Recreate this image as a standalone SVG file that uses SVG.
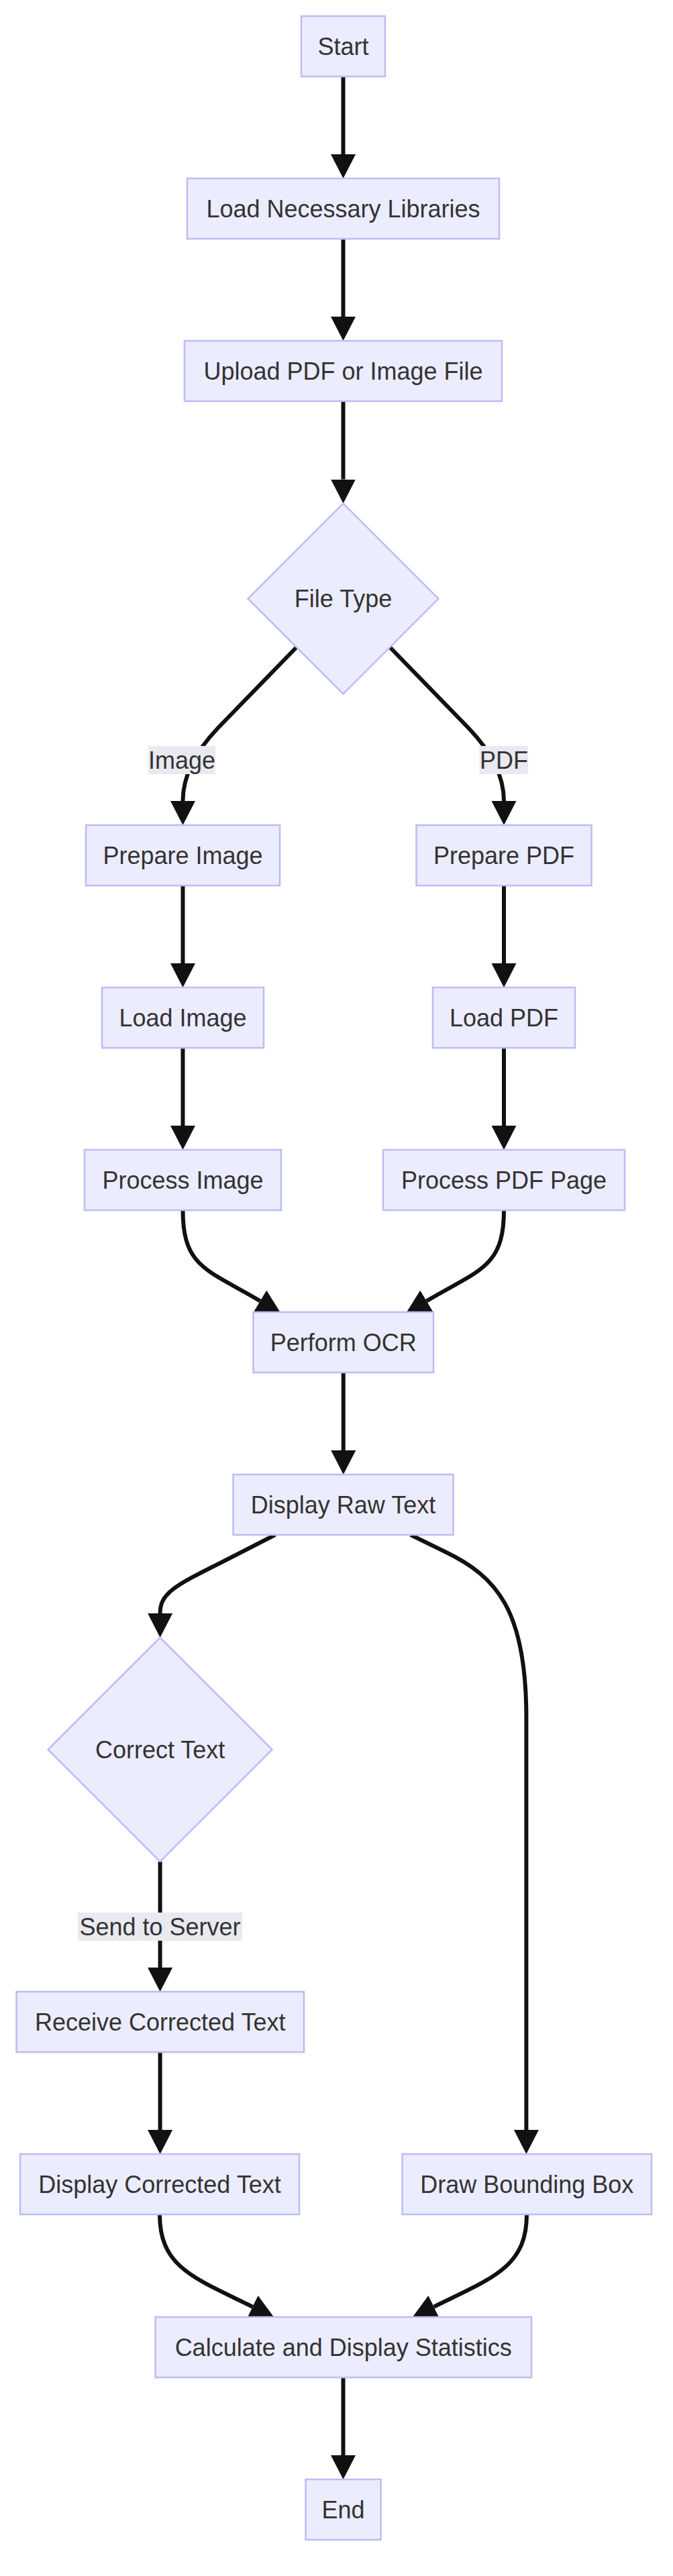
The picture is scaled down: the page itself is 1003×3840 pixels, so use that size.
<svg xmlns="http://www.w3.org/2000/svg" width="1003" height="3840" viewBox="0 0 1003 3840">
<style>
.node rect, .node polygon { fill: #ECECFF; stroke: #BCBCF5; stroke-width: 2.5; }
.lbl { font-family: "Liberation Sans", Arial, sans-serif; font-size: 36px; fill: #333333; text-anchor: middle; }
.edge { fill: none; stroke: #111111; stroke-width: 6; }
.elbg { fill: #E9E9F0; }
</style>
<defs>
<marker id="arrow" viewBox="0 0 36 37" markerWidth="36" markerHeight="37" refX="0" refY="18.5" orient="auto" markerUnits="userSpaceOnUse">
<path d="M0,0 L36,18.5 L0,37 z" fill="#111111"/>
</marker>
</defs>
<rect x="0" y="0" width="1003" height="3840" fill="#FFFFFF"/>
<g id="connectors">
<path class="edge" marker-end="url(#arrow)" d="M511.5,114 L511.5,230"/>
<path class="edge" marker-end="url(#arrow)" d="M511.5,356 L511.5,472"/>
<path class="edge" marker-end="url(#arrow)" d="M511.5,598 L511.5,714.5"/>
<path class="edge" marker-end="url(#arrow)" d="M441.7,965 L325,1085 Q272.5,1140 272.5,1194"/>
<path class="edge" marker-end="url(#arrow)" d="M581.3,965 L698,1085 Q751,1140 751,1194"/>
<path class="edge" marker-end="url(#arrow)" d="M272.5,1320 L272.5,1436"/>
<path class="edge" marker-end="url(#arrow)" d="M272.5,1562 L272.5,1678"/>
<path class="edge" marker-end="url(#arrow)" d="M751,1320 L751,1436"/>
<path class="edge" marker-end="url(#arrow)" d="M751,1562 L751,1678"/>
<path class="edge" marker-end="url(#arrow)" d="M272.5,1804 C272.5,1890 310,1893 387.7,1939.4"/>
<path class="edge" marker-end="url(#arrow)" d="M751,1804 C751,1890 713.5,1893 635.8,1939.4"/>
<path class="edge" marker-end="url(#arrow)" d="M511.75,2046 L511.75,2162"/>
<path class="edge" marker-end="url(#arrow)" d="M410,2288 L330,2329 C260,2364 238.6,2375 238.6,2405"/>
<path class="edge" marker-end="url(#arrow)" d="M612,2288 L663,2313 C740,2350 784.4,2400 784.4,2560 L784.4,3175"/>
<path class="edge" marker-end="url(#arrow)" d="M238.6,2775 L238.6,2933"/>
<path class="edge" marker-end="url(#arrow)" d="M238.6,3059 L238.6,3175"/>
<path class="edge" marker-end="url(#arrow)" d="M238,3301 C238,3380 290,3396 376.4,3438.7"/>
<path class="edge" marker-end="url(#arrow)" d="M785,3301 C785,3380 733,3396 646.6,3438.7"/>
<path class="edge" marker-end="url(#arrow)" d="M511.5,3544 L511.5,3660"/>
<g id="edge-labels">
<rect class="elbg" x="221" y="1112" width="100" height="42"/>
<text class="lbl" x="271" y="1145.5">Image</text>
<rect class="elbg" x="714.5" y="1112" width="72.5" height="42"/>
<text class="lbl" x="751" y="1145.5">PDF</text>
<rect class="elbg" x="116" y="2851" width="245" height="42"/>
<text class="lbl" x="238.5" y="2884.5">Send to Server</text>
</g>
</g>
<g id="node-start" class="node"><rect x="449" y="24" width="125" height="90"/><text class="lbl" x="511.5" y="81.5">Start</text></g>
<g id="node-libs" class="node"><rect x="279" y="266" width="465" height="90"/><text class="lbl" x="511.5" y="323.5">Load Necessary Libraries</text></g>
<g id="node-upload" class="node"><rect x="275" y="508" width="473" height="90"/><text class="lbl" x="511.5" y="565.5">Upload PDF or Image File</text></g>
<g id="node-filetype" class="node"><polygon points="511.5,750.5 653.5,892.5 511.5,1034.5 369.5,892.5"/><text class="lbl" x="511.5" y="905">File Type</text></g>
<g id="node-prepimg" class="node"><rect x="128" y="1230" width="289" height="90"/><text class="lbl" x="272.5" y="1287.5">Prepare Image</text></g>
<g id="node-preppdf" class="node"><rect x="620.5" y="1230" width="261" height="90"/><text class="lbl" x="751" y="1287.5">Prepare PDF</text></g>
<g id="node-loadimg" class="node"><rect x="152" y="1472" width="241" height="90"/><text class="lbl" x="272.5" y="1529.5">Load Image</text></g>
<g id="node-loadpdf" class="node"><rect x="645" y="1472" width="212" height="90"/><text class="lbl" x="751" y="1529.5">Load PDF</text></g>
<g id="node-procimg" class="node"><rect x="126" y="1714" width="293" height="90"/><text class="lbl" x="272.5" y="1771.5">Process Image</text></g>
<g id="node-procpdf" class="node"><rect x="571" y="1714" width="360" height="90"/><text class="lbl" x="751" y="1771.5">Process PDF Page</text></g>
<g id="node-ocr" class="node"><rect x="377.5" y="1956" width="268.5" height="90"/><text class="lbl" x="511.75" y="2013.5">Perform OCR</text></g>
<g id="node-raw" class="node"><rect x="347.5" y="2198" width="328" height="90"/><text class="lbl" x="511.5" y="2255.5">Display Raw Text</text></g>
<g id="node-correct" class="node"><polygon points="238.6,2441 405.6,2608 238.6,2775 71.6,2608"/><text class="lbl" x="238.6" y="2620.5">Correct Text</text></g>
<g id="node-receive" class="node"><rect x="24.5" y="2969" width="428.5" height="90"/><text class="lbl" x="238.75" y="3026.5">Receive Corrected Text</text></g>
<g id="node-dispcorr" class="node"><rect x="30" y="3211" width="416" height="90"/><text class="lbl" x="238" y="3268.5">Display Corrected Text</text></g>
<g id="node-bbox" class="node"><rect x="599.5" y="3211" width="371.5" height="90"/><text class="lbl" x="785.25" y="3268.5">Draw Bounding Box</text></g>
<g id="node-stats" class="node"><rect x="231.5" y="3454" width="560.5" height="90"/><text class="lbl" x="511.75" y="3511.5">Calculate and Display Statistics</text></g>
<g id="node-end" class="node"><rect x="455.5" y="3696" width="112" height="90"/><text class="lbl" x="511.5" y="3753.5">End</text></g>
</svg>
